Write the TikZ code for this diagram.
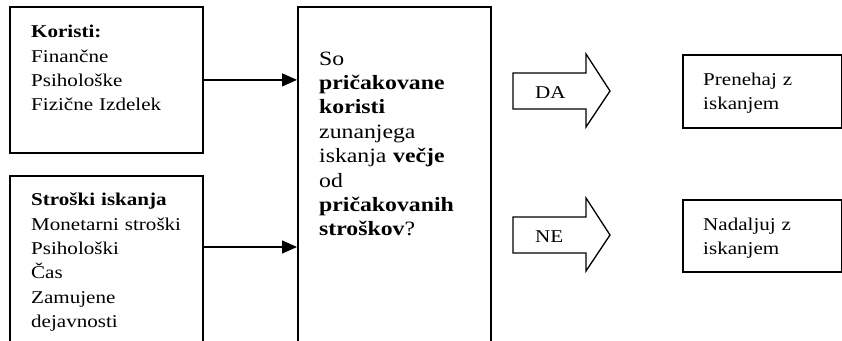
\documentclass[tikz,border=0pt]{standalone}
\usepackage{fontspec}
\setmainfont{Liberation Serif}[FakeStretch=1.17]
\usepackage{tikz}
\usetikzlibrary{arrows.meta}
\usetikzlibrary{positioning}

\tikzset{
  okvir/.style={rectangle,draw=black,line width=1.8pt,inner sep=0pt,anchor=north west},
  besedilo/.style={inner sep=0pt,anchor=base west,text width=6cm,align=left,
    font=\fontsize{18}{24.4}\selectfont},
  vecje/.style={besedilo,font=\fontsize{20.3}{24.4}\selectfont},
  puscica/.style={line width=1.3pt,-{Triangle[length=15pt,width=13pt]}},
  blok/.style={draw=black,line width=1.3pt,line join=miter}
}

\begin{document}
\begin{tikzpicture}[x=1pt,y=-1pt]
\useasboundingbox (0,0) rectangle (842,340);
\clip (0,0) rectangle (842,340);

% levi okvirji
\node[okvir,minimum width=193pt,minimum height=146pt] (koristi) at (9,6) {};
\node[okvir,minimum width=193pt,minimum height=200pt] (stroski) at (9,175) {};
\node[besedilo] (koristiT) at (31,37.7) {\textbf{Koristi:}\\ Finančne\\ Psihološke\\ Fizične Izdelek};
\node[besedilo] (stroskiT) at (31,205.7) {\textbf{Stroški iskanja}\\ Monetarni stroški\\ Psihološki\\ Čas\\ Zamujene\\ dejavnosti};

% srednji okvir z vprasanjem
\node[okvir,minimum width=193pt,minimum height=360pt] (odlocitev) at (297,6) {};
\node[vecje] (odlocitevT) at (319,65) {So\\ \textbf{pričakovane}\\ \textbf{koristi}\\ zunanjega\\ iskanja \textbf{večje}\\ od\\ \textbf{pričakovanih}\\ \textbf{stroškov}?};

% puscici v srednji okvir
\coordinate (k1) at (koristi.east);
\coordinate (s1) at ([yshift=-72pt]stroski.north east);
\draw[puscica] (k1) -- (k1 -| odlocitev.west);
\draw[puscica] (s1) -- (s1 -| odlocitev.west);

% blokovni puscici DA / NE
\draw[blok] (513,73) -- (586,73) -- (586,54) -- (610,91) -- (586,127) -- (586,109) -- (513,109) -- cycle;
\draw[blok] (513,217) -- (586,217) -- (586,198) -- (610,235) -- (586,271) -- (586,253) -- (513,253) -- cycle;
\node[besedilo] (da) at (535,98) {DA};
\node[besedilo] (ne) at (535,242) {NE};

% desna okvirja
\node[okvir,minimum width=159pt,minimum height=73pt] (prenehaj) at (682,54) {};
\node[okvir,minimum width=159pt,minimum height=72pt] (nadaljuj) at (682,199) {};
\node[besedilo] (prenehajT) at (703,85) {Prenehaj z\\ iskanjem};
\node[besedilo] (nadaljujT) at (703,230) {Nadaljuj z\\ iskanjem};
\end{tikzpicture}
\end{document}
